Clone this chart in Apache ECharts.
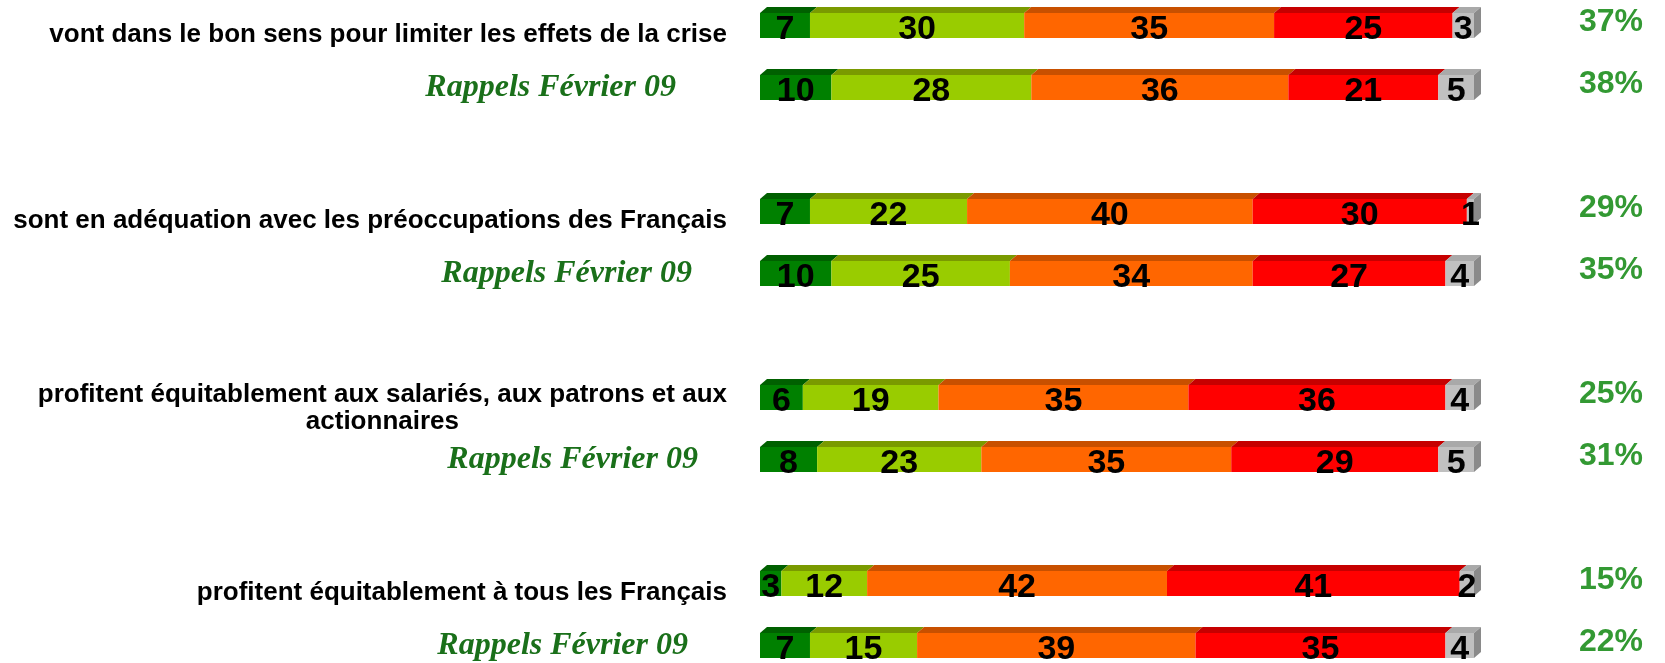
<!DOCTYPE html>
<html>
<head>
<meta charset="utf-8">
<script src="https://cdn.jsdelivr.net/npm/echarts@6/dist/echarts.min.js"></script>
<style>
  html, body { margin: 0; padding: 0; background: #fff; }
  #main { width: 1665px; height: 663px; }
</style>
<title>Mesures - crise</title>
</head>
<body>
<div id="main"></div>
<script type="text/javascript">
    // libellés des questions (une ligne de rappel sous chacune)
    var questions = [
        'vont dans le bon sens pour limiter les effets de la crise',
        'sont en adéquation avec les préoccupations des Français',
        'profitent équitablement aux salariés, aux patrons et aux\nactionnaires',
        'profitent équitablement à tous les Français'
    ];
    var rappel = 'Rappels Février 09';

    // 8 barres : question, rappel, question, rappel...
    var toutAFait = [7, 10, 7, 10, 6, 8, 3, 7];
    var plutot    = [30, 28, 22, 25, 19, 23, 12, 15];
    var plutotPas = [35, 36, 40, 34, 35, 35, 42, 39];
    var pasDuTout = [25, 21, 30, 27, 36, 29, 41, 35];
    var nsp       = [3, 5, 1, 4, 4, 5, 2, 4];
    var totalOui  = ['37%', '38%', '29%', '35%', '25%', '31%', '15%', '22%'];

    var niveaux = [
        { name: 'Tout à fait', data: toutAFait, front: '#008000', top: '#006000' },
        { name: 'Plutôt',      data: plutot,    front: '#99cc00', top: '#7a9a00' },
        { name: 'Plutôt pas',  data: plutotPas, front: '#ff6600', top: '#c85000' },
        { name: 'Pas du tout', data: pasDuTout, front: '#ff0000', top: '#c60000' },
        { name: 'NSP',         data: nsp,       front: '#c0c0c0', top: '#a9a9a9', side: '#8a8a8a' }
    ];

    // position de chaque barre sur l'axe (un vide entre les groupes)
    function slotOf(i) { return Math.floor(i / 2) * 3 + i % 2; }
    var nbSlots = 11;
    var slotLabels = [], slotPct = [];
    for (var s = 0; s < nbSlots; s++) { slotLabels.push(''); slotPct.push(''); }
    for (var i = 0; i < 8; i++) {
        slotLabels[slotOf(i)] = i % 2 === 0 ? questions[i / 2] : rappel;
        slotPct[slotOf(i)] = totalOui[i];
    }

    var BAR_H = 25, DX = 7, DY = 6;

    function makeRender(niv, isLast) {
        return function (params, api) {
            var x0 = api.value(0), x1 = api.value(1), slot = api.value(2);
            var p0 = api.coord([x0, slot]);
            var p1 = api.coord([x1, slot]);
            var top = p0[1] - BAR_H / 2;
            var children = [
                { type: 'polygon', shape: { points: [[p0[0], top], [p0[0] + DX, top - DY], [p1[0] + DX, top - DY], [p1[0], top]] },
                  style: { fill: niv.top } },
                { type: 'rect', shape: { x: p0[0], y: top, width: p1[0] - p0[0], height: BAR_H },
                  style: { fill: niv.front } }
            ];
            if (isLast) {
                children.push({ type: 'polygon',
                    shape: { points: [[p1[0], top], [p1[0] + DX, top - DY], [p1[0] + DX, top - DY + BAR_H], [p1[0], top + BAR_H]] },
                    style: { fill: niv.side } });
            }
            children.push({ type: 'text', z2: 100, x: (p0[0] + p1[0]) / 2, y: p0[1] + 4,
                style: { text: String(api.value(3)), fill: '#000', fontSize: 34, fontWeight: 'bold',
                         fontFamily: '"Liberation Sans", Arial, sans-serif', align: 'center', verticalAlign: 'middle' } });
            return { type: 'group', children: children };
        };
    }

    var series = [];
    niveaux.forEach(function (niv, k) {
        var data = [];
        for (var i = 0; i < 8; i++) {
            var start = 0;
            for (var j = 0; j < k; j++) start += niveaux[j].data[i];
            data.push([start, start + niv.data[i], slotOf(i), niv.data[i]]);
        }
        series.push({
            name: niv.name,
            type: 'custom',
            renderItem: makeRender(niv, k === niveaux.length - 1),
            encode: { x: [0, 1], y: 2 },
            data: data
        });
    });

    var rappelPad = [51, 35, 29, 39];
    var serifFont = '"Liberation Serif", "Times New Roman", serif';
    var sansFont = '"Liberation Sans", Arial, sans-serif';

    function rappelStyle(pad) {
        return { fontSize: 32, fontWeight: 'bold', fontStyle: 'italic', color: '#1a701a',
                 fontFamily: serifFont, padding: [0, pad, 0, 0] };
    }

    var myChart = echarts.init(document.getElementById('main'));
    var option = {
        animation: false,
        backgroundColor: '#fff',
        grid: { left: 760, right: 191, top: -5.5, height: 682, outerBoundsMode: 'none' },
        xAxis: { type: 'value', min: 0, max: 100, show: false },
        yAxis: [{
            type: 'category', inverse: true, data: slotLabels,
            axisLine: { show: false }, axisTick: { show: false }, splitLine: { show: false },
            axisLabel: {
                margin: 33, align: 'right', interval: 0,
                formatter: function (v, idx) {
                    if (!v) return '';
                    if (v === rappel) {
                        var g = Math.floor(idx / 3);
                        return '{r' + g + '|' + v + '}';
                    }
                    var lines = v.split('\n');
                    var tag = lines.length > 1 ? 'q2' : 'q';
                    return lines.map(function (l) { return '{' + tag + '|' + l + '}'; }).join('\n');
                },
                rich: {
                    q: { fontSize: 26, fontWeight: 'bold', color: '#000', fontFamily: sansFont,
                         lineHeight: 27, padding: [18, 0, 0, 0], align: 'center' },
                    q2: { fontSize: 26, fontWeight: 'bold', color: '#000', fontFamily: sansFont,
                          lineHeight: 27, padding: [21, 0, 0, 0], align: 'center' },
                    r0: rappelStyle(rappelPad[0]),
                    r1: rappelStyle(rappelPad[1]),
                    r2: rappelStyle(rappelPad[2]),
                    r3: rappelStyle(rappelPad[3])
                }
            }
        }, {
            type: 'category', inverse: true, position: 'right', data: slotPct,
            axisLine: { show: false }, axisTick: { show: false }, splitLine: { show: false },
            axisLabel: {
                margin: 105, align: 'left', interval: 0,
                formatter: function (v) { return v ? '{p|' + v + '}' : ''; },
                rich: {
                    p: { fontSize: 32, fontWeight: 'bold', color: '#339933', fontFamily: sansFont,
                         lineHeight: 32, padding: [0, 0, 6, 0] }
                }
            }
        }],
        series: series
    };
    myChart.setOption(option);
</script>
</body>
</html>
